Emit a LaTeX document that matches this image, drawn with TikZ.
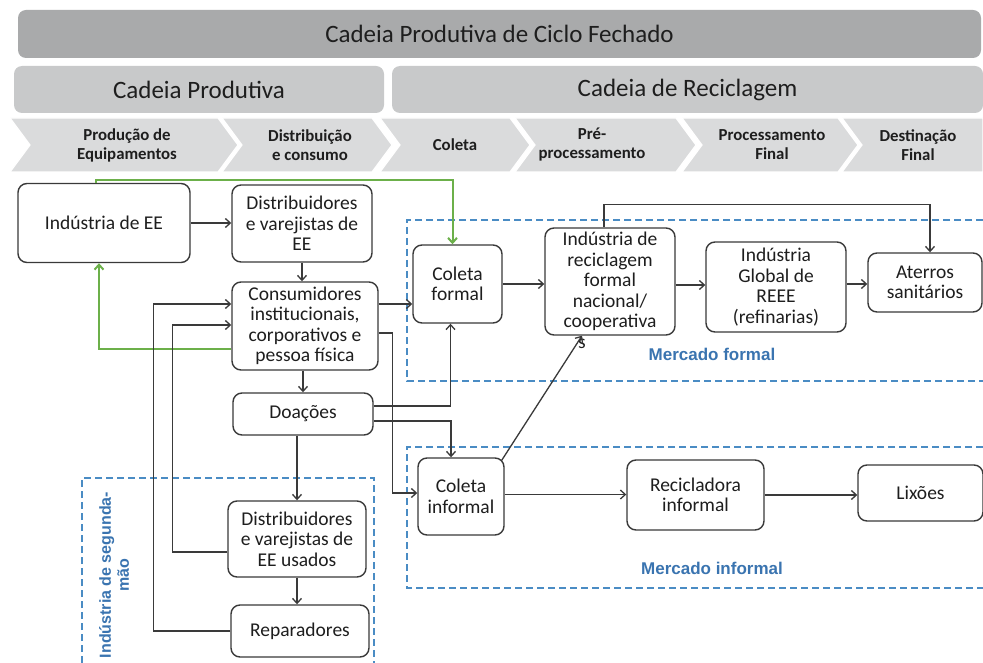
\documentclass[tikz,border=0pt]{standalone}
\usepackage{fontspec}
\setmainfont{Carlito}
\newfontfamily\arialfont{Liberation Sans}
\usetikzlibrary{arrows.meta}
\definecolor{topbar}{HTML}{A9AAAB}
\definecolor{midbar}{HTML}{C8C9CA}
\definecolor{chev}{HTML}{DADBDC}
\definecolor{ink}{HTML}{1E1E1E}
\definecolor{boxline}{HTML}{3A3A3A}
\definecolor{dashblue}{HTML}{4A8CC4}
\definecolor{lblblue}{HTML}{3A74B0}
\definecolor{grn}{HTML}{6CB04A}
\tikzset{
  box/.style={draw=boxline, line width=1.4pt, rounded corners=9pt, fill=white, align=center,
    text=ink, font=\fontsize{19.5}{20.5}\selectfont, inner sep=1pt},
  sz/.style 2 args={minimum width=#1pt, minimum height=#2pt},
  conn/.style={draw=boxline, line width=1.3pt, -{Straight Barb[length=5pt,width=9pt]}},
  garr/.style={draw=grn, line width=2pt, -{Straight Barb[length=5pt,width=9pt]}},
  dashbox/.style={draw=dashblue, line width=1.8pt, dash pattern=on 7pt off 4pt},
  mlabel/.style={font=\arialfont\bfseries\fontsize{17}{18}\selectfont, text=lblblue},
  chevshape/.style={fill=chev, draw=white, line width=1.2pt},
  chevtext/.style={font=\bfseries\fontsize{16.8}{19}\selectfont, text=ink, align=center},
  headtext/.style={font=\fontsize{25}{28}\selectfont, text=ink},
}
\begin{document}
\begin{tikzpicture}[x=1pt,y=-1pt]
\useasboundingbox[fill=white] (0,0) rectangle (983,663);

% header bars
\node[headtext, fill=topbar, rounded corners=8pt, minimum width=963pt, minimum height=48pt] (top) at (499.5,34) {Cadeia Produtiva de Ciclo Fechado};
\node[headtext, fill=midbar, rounded corners=8pt, minimum width=370pt, minimum height=47pt] (cp) at (199,89.5) {Cadeia Produtiva};
\node[headtext, fill=midbar, rounded corners=8pt, minimum width=591pt, minimum height=47pt] (cr) at (687.5,89.5) {Cadeia de Reciclagem};

% chevrons
\path[chevshape] (10,118) -- (218,118) -- (238,145) -- (218,172) -- (10,172) -- (30,145) -- cycle;
\path[chevshape] (222,118) -- (372,118) -- (392,145) -- (372,172) -- (222,172) -- (242,145) -- cycle;
\path[chevshape] (380,118) -- (510,118) -- (530,145) -- (510,172) -- (380,172) -- (400,145) -- cycle;
\path[chevshape] (515,118) -- (676,118) -- (696,145) -- (676,172) -- (515,172) -- (535,145) -- cycle;
\path[chevshape] (682,118) -- (838,118) -- (858,145) -- (838,172) -- (682,172) -- (702,145) -- cycle;
\path[chevshape] (842,118) -- (983,118) -- (983,172) -- (842,172) -- (862,145) -- cycle;
\node[chevtext] (c1) at (127,145) {Produção de\\Equipamentos};
\node[chevtext] (c2) at (310,145) {Distribuição\\e consumo};
\node[chevtext] (c3) at (455,145) {Coleta};
\node[chevtext] (c4) at (592,145) {Pré-\\processamento};
\node[chevtext] (c5) at (772,145) {Processamento\\Final};
\node[chevtext] (c6) at (918,145) {Destinação\\Final};

% dashed regions
\draw[dashbox] (983,220) -- (407,220) -- (407,381) -- (983,381);
\draw[dashbox] (983,447) -- (407,447) -- (407,588) -- (983,588);
\draw[dashbox] (82,663) -- (82,478) -- (374,478) -- (374,663);
\node[mlabel] (mf) at (712,354) {Mercado formal};
\node[mlabel] (mi) at (712,568) {Mercado informal};
\node[mlabel, font=\arialfont\bfseries\fontsize{16}{18}\selectfont, rotate=90, align=center] (seg) at (114,575) {Indústria de segunda-\\mão};

% boxes
\node[box, sz={172}{79}] (ind) at (104,223) {Indústria de EE};
\node[box, sz={140}{77}] (dist) at (302,223.5) {Distribuidores\\e varejistas de\\EE};
\node[box, sz={146}{88}] (cons) at (305,326) {Consumidores\\institucionais,\\corporativos e\\pessoa física};
\node[box, sz={140}{42}] (doa) at (303,414) {Doações};
\node[box, sz={138}{76}] (distu) at (297,539) {Distribuidores\\e varejistas de\\EE usados};
\node[box, sz={138}{52}] (rep) at (300,631) {Reparadores};
\node[box, sz={89}{78}] (colf) at (457.5,284) {Coleta\\formal};
\node[box, sz={130}{107}] (indr) at (610,281.5) {Indústria de\\reciclagem\\formal\\nacional/\\cooperativa};
\node[text=ink, font=\fontsize{19.5}{20.5}\selectfont, inner sep=0pt] (indrs) at (582,344) {s};
\node[box, sz={140}{90}] (glob) at (776,287) {Indústria\\Global de\\REEE\\(refinarias)};
\node[box, sz={114}{59}] (ater) at (925,282.5) {Aterros\\sanitários};
\node[box, sz={86}{77}] (coli) at (461,496.5) {Coleta\\informal};
\node[box, sz={137}{70}] (reci) at (695.5,495) {Recicladora\\informal};
\node[box, sz={125}{56}] (lix) at (920.5,493) {Lixões};

% green connectors
\draw[garr] ([xshift=-8pt]ind.north) -- ++(0,-3) -| ([xshift=-5pt]colf.north);
\draw[garr] ([yshift=-23pt]cons.west) -| ([xshift=-5pt]ind.south);

% black connectors
\draw[conn] (ind.east) -- (ind.east -| dist.west);
\draw[conn] (dist.south) -- (dist.south |- cons.north);
\draw[conn] (doa.north |- cons.south) -- (doa.north);
\draw[conn] (distu.north |- doa.south) -- (distu.north);
\draw[conn] (distu.south) -- (distu.south |- rep.north);
\draw[conn] (rep.west) -- ++(-77,0) |- ([yshift=22pt]cons.west);
\draw[conn] ([yshift=-13pt]distu.west) -- ++(-55,0) |- ([yshift=1pt]cons.west);
\draw[conn] ([yshift=22pt]cons.east) -- ([yshift=22pt]cons.east -| colf.west);
\draw[conn] ([yshift=-7pt]cons.east) -- ++(14,0) |- ([yshift=3.5pt]coli.west);
\draw[conn] ([yshift=8pt]doa.east) -| ([xshift=-7pt]colf.south);
\draw[conn] ([yshift=-7pt]doa.east) -| ([xshift=-10pt]coli.north);
\draw[conn] (colf.east) -- (colf.east -| indr.west);
\draw[conn] ([yshift=2pt]glob.west -| indr.east) -- ([yshift=2pt]glob.west);
\draw[conn] ([yshift=3pt]glob.east) -- ([yshift=3pt]glob.east -| ater.west);
\draw[conn] ([xshift=-6pt]indr.north) -- ++(0,-23) -| ([xshift=5pt]ater.north);
\draw[conn] ([xshift=-3pt,yshift=-3pt]coli.north east) -- ([xshift=-28pt]indr.south);
\draw[conn] ([yshift=2pt]coli.east) -- ([yshift=2pt]coli.east -| reci.west);
\draw[conn] (reci.east) -- (reci.east -| lix.west);
\end{tikzpicture}
\end{document}
